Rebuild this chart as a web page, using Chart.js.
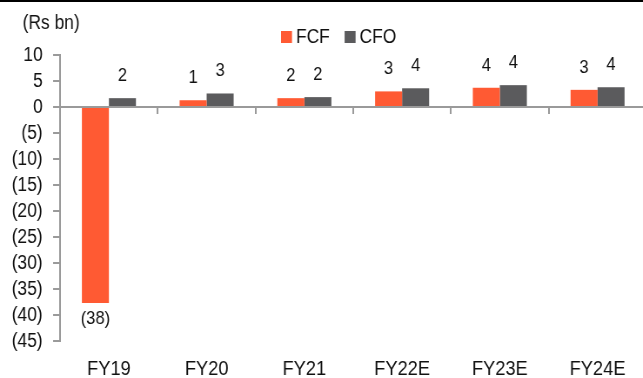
<!DOCTYPE html>
<html>
<head>
<meta charset="utf-8">
<script src="https://cdn.jsdelivr.net/npm/chart.js@4/dist/chart.umd.min.js"></script>
<style>
  html, body { margin: 0; padding: 0; background: #fff; overflow: hidden; width: 643px; height: 378px; }
  /* the chart is drawn wide and squeezed horizontally for a condensed look */
  #wrap { position: absolute; left: 0; top: 0; width: 745px; height: 378px; transform: scaleX(0.87); transform-origin: 0 0; }
  #rule { position: absolute; left: 0; top: 0; width: 643px; height: 2px; background: #000; }
</style>
</head>
<body>
<div id="wrap"><canvas id="c" width="745" height="378" style="width:745px;height:378px"></canvas></div>
<div id="rule"></div>
<script>
const categories = ['FY19', 'FY20', 'FY21', 'FY22E', 'FY23E', 'FY24E'];
const fcf = [-37.7, 1.3, 1.7, 3.0, 3.7, 3.3];
const cfo = [1.7, 2.6, 1.9, 3.6, 4.2, 3.8];
const seriesNames = ['FCF', 'CFO'];
const yMin = -45, yMax = 10, yStep = 5;
const unitLabel = '(Rs bn)';

const FONT = '"Liberation Sans", Arial, sans-serif';
const COLORS = ['#FF5A33', '#5B5B5D'];
const AXIS = '#9a9a9a';

function fmt(v) {
  const r = Math.round(v);
  return r < 0 ? '(' + (-r) + ')' : String(r);
}

const overlay = {
  id: 'overlay',
  afterDatasetsDraw(chart) {
    const ctx = chart.ctx;
    ctx.save();
    // value labels
    ctx.font = '19px ' + FONT;
    ctx.fillStyle = '#111';
    ctx.textAlign = 'center';
    ctx.textBaseline = 'alphabetic';
    chart.data.datasets.forEach((ds, i) => {
      chart.getDatasetMeta(i).data.forEach((el, j) => {
        const v = ds.data[j];
        const y = v >= 0 ? el.y - 17 : el.y + 21;
        ctx.fillText(fmt(v), el.x, y);
      });
    });
    // unit caption
    ctx.textAlign = 'left';
    ctx.textBaseline = 'middle';
    ctx.font = '20px ' + FONT;
    ctx.fillText(unitLabel, 26, 23);
    // legend
    let x = 323;
    chart.data.datasets.forEach((ds) => {
      ctx.fillStyle = ds.backgroundColor;
      ctx.fillRect(x, 31, 12.6, 12);
      x += 12.6 + 4.6;
      ctx.fillStyle = '#111';
      ctx.fillText(ds.label, x, 37.5);
      x += ctx.measureText(ds.label).width + 17;
    });
    ctx.restore();
  }
};

new Chart(document.getElementById('c'), {
  type: 'bar',
  data: {
    labels: categories,
    datasets: [
      { label: seriesNames[0], data: fcf, backgroundColor: COLORS[0], xAxisID: 'x', yAxisID: 'y' },
      { label: seriesNames[1], data: cfo, backgroundColor: COLORS[1], xAxisID: 'x', yAxisID: 'y' }
    ]
  },
  options: {
    responsive: false,
    animation: false,
    devicePixelRatio: 1,
    categoryPercentage: 0.553,
    barPercentage: 1.0,
    layout: { padding: { top: 55, right: 2, left: 0, bottom: 0 } },
    plugins: { legend: { display: false }, tooltip: { enabled: false } },
    scales: {
      y: {
        min: yMin, max: yMax,
        ticks: {
          stepSize: yStep,
          autoSkip: false,
          padding: 12,
          color: '#111',
          font: { family: FONT, size: 20 },
          callback: (v) => fmt(v)
        },
        grid: { drawOnChartArea: false, drawTicks: true, tickLength: 8, color: AXIS, lineWidth: 2 },
        border: { color: AXIS, width: 2 },
        afterFit: (s) => { s.width = 69; }
      },
      x: {
        position: 'bottom',
        ticks: { color: '#111', padding: 8, maxRotation: 0, autoSkip: false, font: { family: FONT, size: 21 } },
        grid: { display: false },
        border: { display: false },
        afterFit: (s) => { s.height = 37; }
      },
      x2: {
        type: 'category',
        position: { y: 0 },
        ticks: { display: false },
        grid: { drawOnChartArea: false, drawTicks: true, tickLength: 6, offset: true, color: AXIS, lineWidth: 2 },
        border: { color: AXIS, width: 2 }
      }
    }
  },
  plugins: [overlay]
});
</script>
</body>
</html>
